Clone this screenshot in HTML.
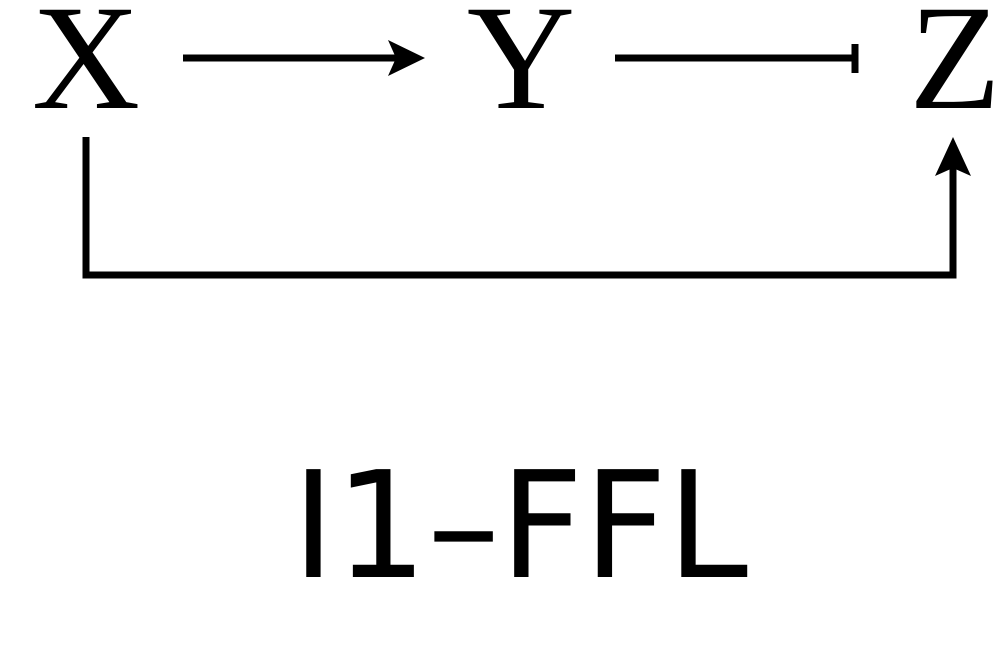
<!DOCTYPE html>
<html><head><meta charset="utf-8"><style>html,body{margin:0;padding:0;background:#fff;width:1004px;height:670px;overflow:hidden}</style></head>
<body>
<svg width="1004" height="670" viewBox="0 0 1004 670">
<text x="86" y="108" font-family="Liberation Serif, serif" font-size="150" text-anchor="middle">X</text>
<text x="521" y="108" font-family="Liberation Serif, serif" font-size="150" text-anchor="middle">Y</text>
<text x="955" y="108" font-family="Liberation Serif, serif" font-size="150" text-anchor="middle">Z</text>
<g>
<line x1="183" y1="58" x2="405" y2="58" stroke="#000" stroke-width="7"/>
<polygon points="425,58 388,40 396,58 388,76" fill="#000"/>
</g>
<g>
<line x1="615" y1="58" x2="855" y2="58" stroke="#000" stroke-width="7"/>
<line x1="855" y1="44" x2="855" y2="73" stroke="#000" stroke-width="7"/>
</g>
<g>
<polyline points="86,137 86,275 953,275 953,160" fill="none" stroke="#000" stroke-width="7"/>
<polygon points="953,137 935,176 953,168 971,176" fill="#000"/>
</g>
<text x="520" y="577" font-family="DejaVu Sans, sans-serif" font-size="148" text-anchor="middle" textLength="456" lengthAdjust="spacingAndGlyphs">I1–FFL</text>
</svg>
</body></html>
